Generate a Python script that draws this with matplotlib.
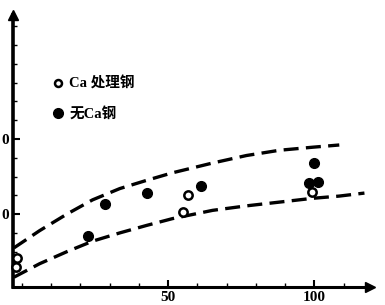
import matplotlib
matplotlib.use("Agg")
import matplotlib.pyplot as plt
from matplotlib.ticker import MultipleLocator, FixedLocator
from matplotlib.lines import Line2D

plt.rcParams['font.family'] = ['Liberation Serif', 'Noto Sans CJK SC', 'DejaVu Sans']

# Ca treated steel (open circles)
ca_x = [-1.7, -2.0, 55.0, 56.7, 99.3]
ca_y = [4.1, 2.9, 10.3, 12.5, 12.9]
# steel without Ca (filled circles)
noca_x = [22.5, 28.3, 42.7, 61.4, 99.7, 98.0, 101.4]
noca_y = [7.1, 11.3, 12.8, 13.7, 16.8, 14.1, 14.3]

# dashed band limits
upper_x = [-2.7, 6.1, 15.4, 24.2, 33.5, 42.7, 51.5, 65.2, 76.8, 88.1, 99.3, 108.5]
upper_y = [5.5, 7.8, 10.0, 11.9, 13.4, 14.5, 15.5, 16.8, 17.8, 18.5, 18.9, 19.2]
lower_x = [-2.7, 6.1, 15.4, 24.2, 33.5, 42.7, 51.5, 65.2, 76.8, 88.1, 99.3, 108.5, 117.1]
lower_y = [1.6, 3.4, 5.0, 6.4, 7.5, 8.5, 9.4, 10.5, 11.1, 11.6, 12.1, 12.4, 12.8]

xticks = [50, 100]
yticks = [10, 20]
ytick_labels = ["0", "0"]   # leading digits are cut off in the scan

fig = plt.figure(figsize=(3.85, 3.05), dpi=100)
ax = fig.add_axes([13 / 385, 18 / 305, 357 / 385, 272 / 305])

ax.plot(upper_x, upper_y, color="black", lw=2.4, dashes=(4.5, 2.2),
        dash_capstyle="butt", dash_joinstyle="round")
ax.plot(lower_x, lower_y, color="black", lw=2.4, dashes=(4.5, 2.2),
        dash_capstyle="butt", dash_joinstyle="round")

ax.plot(ca_x, ca_y, "o", ms=6, mfc="white", mec="black", mew=1.8,
        clip_on=False, zorder=5)
ax.plot(noca_x, noca_y, "o", ms=7, color="black", clip_on=False, zorder=5)

ax.set_xlim(-3, 119)
ax.set_ylim(0.3, 36.5)

for s in ["top", "right"]:
    ax.spines[s].set_visible(False)
ax.spines["left"].set_linewidth(2.6)
ax.spines["bottom"].set_linewidth(2.2)

# arrow heads at the axis ends
ax.plot([0], [1], marker="^", ms=7, color="black", transform=ax.transAxes,
        clip_on=False)
ax.plot([1], [0], marker=">", ms=7, color="black", transform=ax.transAxes,
        clip_on=False)

ax.xaxis.set_major_locator(FixedLocator(xticks))
ax.xaxis.set_minor_locator(MultipleLocator(10))
ax.yaxis.set_major_locator(FixedLocator(yticks))
ax.yaxis.set_minor_locator(MultipleLocator(2.5))
ax.set_yticklabels(ytick_labels)
ax.tick_params(which="major", direction="in", length=5, width=1.5,
               labelsize=11, pad=3)
ax.tick_params(which="minor", direction="in", length=3, width=1)
for lab in ax.get_xticklabels() + ax.get_yticklabels():
    lab.set_fontweight("bold")

handles = [
    Line2D([], [], ls="none", marker="o", ms=5, mfc="white", mec="black", mew=1.8),
    Line2D([], [], ls="none", marker="o", ms=7, color="black"),
]
ax.legend(handles, ["Ca 处理钢", "无Ca钢"], loc="upper left",
          bbox_to_anchor=(0.09, 0.8), frameon=False, handlelength=0.8,
          handletextpad=0.35, labelspacing=1.1, borderpad=0,
          prop=dict(family=['Liberation Serif', 'Noto Sans CJK SC'],
                    weight="bold", size=10.5))

fig.savefig("out.png", dpi=100)
